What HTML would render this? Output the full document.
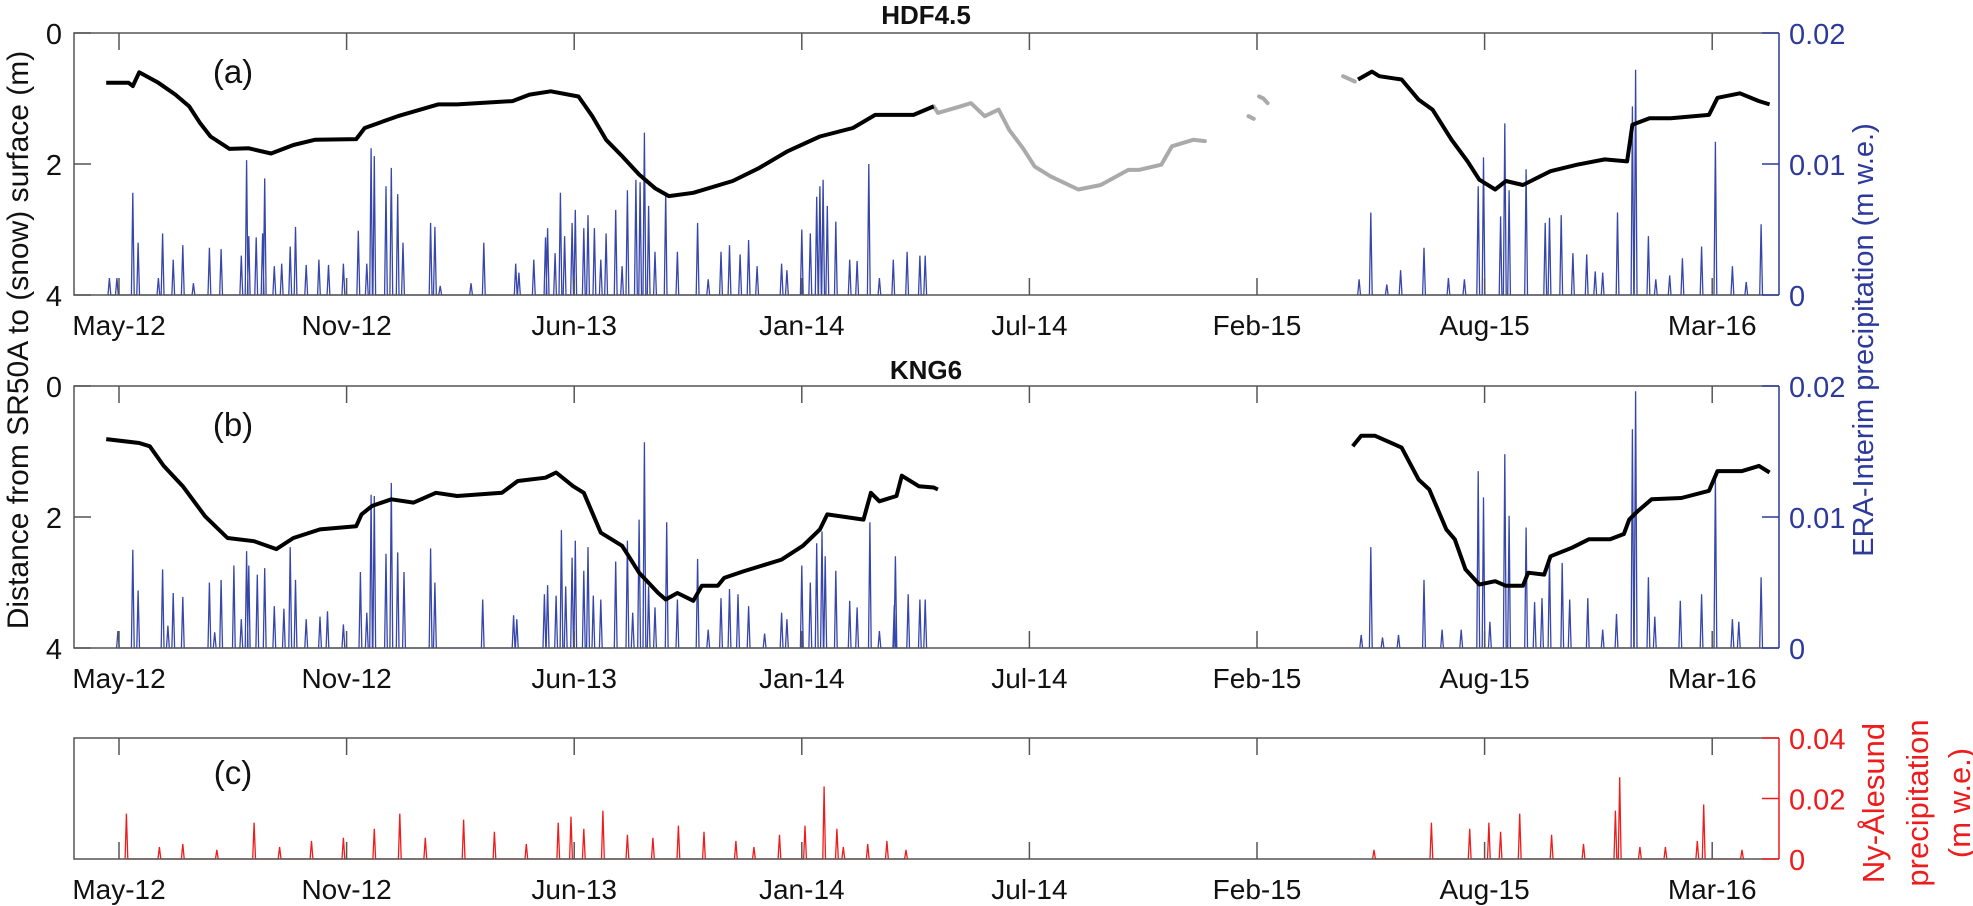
<!DOCTYPE html>
<html><head><meta charset="utf-8"><style>
body{margin:0;background:#fff;width:1973px;height:906px;overflow:hidden}
svg{display:block;font-family:"Liberation Sans",Arial,sans-serif}
</style></head><body>
<svg id="chart" width="1973" height="906" viewBox="0 0 1973 906" xmlns="http://www.w3.org/2000/svg"></svg>
<script>
// ---- data (x in days since May-2012 tick) ----
const tickLabels = ["May-12","Nov-12","Jun-13","Jan-14","Jul-14","Feb-15","Aug-15","Mar-16"];
const depthTicks = [0,2,4];
const eraTicks = [0,0.01,0.02];
const nyTicks = [0,0.02,0.04];

const hdfDays1 = [-12,9,13,19,37,53,66,76,86,104,122,143,164,184,223,231,262,277,300,318,370,386,406,432,445,458,473,489,504,517,540,577,602,628,659,690,711,747,766];
const hdfDepth1 = [0.76,0.76,0.81,0.60,0.76,0.94,1.12,1.37,1.58,1.77,1.76,1.84,1.71,1.63,1.62,1.45,1.27,1.20,1.09,1.09,1.04,0.94,0.89,0.97,1.27,1.63,1.88,2.16,2.37,2.49,2.44,2.26,2.06,1.81,1.58,1.45,1.25,1.25,1.12];
const hdfGapDays = [766,770,791,801,814,827,837,850,861,876,902,923,949,959,980,990,1010,1021];
const hdfGapDepth = [1.12,1.22,1.12,1.07,1.27,1.17,1.48,1.76,2.04,2.19,2.39,2.32,2.09,2.09,2.01,1.73,1.63,1.65];
const hdfGapDays2 = [1062,1067];
const hdfGapDepth2 = [1.27,1.31];
const hdfGapDays3 = [1072,1076,1080];
const hdfGapDepth3 = [0.97,1.0,1.07];
const hdfGapDays4 = [1151,1162];
const hdfGapDepth4 = [0.66,0.74];
const hdfDays2 = [1165,1178,1185,1206,1222,1235,1253,1268,1279,1294,1304,1320,1346,1371,1397,1418,1423,1439,1459,1495,1503,1524,1542,1552];
const hdfDepth2 = [0.71,0.59,0.66,0.71,1.02,1.17,1.63,1.96,2.24,2.39,2.26,2.32,2.11,2.01,1.93,1.96,1.40,1.30,1.30,1.25,0.99,0.92,1.04,1.09];

const kngDays1 = [-12,19,29,42,60,81,102,127,148,164,189,223,228,238,256,277,298,318,360,375,401,411,427,437,453,473,489,507,514,525,540,548,563,569,587,623,643,659,666,700,707,715,731,736,752,766,770];
const kngDepth1 = [0.81,0.87,0.92,1.22,1.53,1.99,2.32,2.37,2.49,2.32,2.19,2.14,1.96,1.83,1.73,1.78,1.63,1.68,1.63,1.45,1.40,1.32,1.53,1.63,2.24,2.44,2.85,3.16,3.26,3.16,3.28,3.05,3.05,2.93,2.83,2.65,2.44,2.19,1.96,2.04,1.63,1.76,1.68,1.37,1.53,1.55,1.58];
const kngDays2 = [1160,1168,1181,1206,1222,1232,1248,1256,1266,1279,1294,1304,1320,1325,1340,1346,1366,1382,1402,1415,1420,1428,1441,1469,1495,1503,1526,1542,1552];
const kngDepth2 = [0.92,0.76,0.76,0.94,1.43,1.58,2.19,2.34,2.80,3.03,2.98,3.05,3.05,2.85,2.88,2.60,2.47,2.34,2.34,2.26,2.04,1.91,1.73,1.71,1.60,1.30,1.30,1.22,1.32];

const eraADays = [-9,-2,13,18,37,41,51,60,70,85,96,115,120,122,129,135,137,146,153,161,166,176,188,197,211,225,233,237,240,251,256,262,267,293,297,302,331,343,373,376,390,401,403,410,415,419,426,429,437,441,447,453,458,467,473,478,486,490,494,498,504,514,525,544,554,566,574,584,592,600,623,628,642,650,656,659,662,666,674,687,694,705,715,728,741,753,758,
 1166,1177,1192,1205,1227,1250,1265,1278,1283,1299,1303,1307,1323,1341,1345,1356,1367,1380,1388,1395,1409,1423,1426,1438,1445,1458,1470,1488,1501,1517,1530,1544];
const eraAVals = [.0013,.0013,.0078,.0040,.0013,.0047,.0027,.0038,.0009,.0036,.0035,.0030,.0103,.0045,.0044,.0047,.0089,.0022,.0024,.0037,.0052,.0023,.0027,.0023,.0024,.0049,.0024,.0112,.0106,.0083,.0097,.0077,.0040,.0055,.0052,.0007,.0009,.0040,.0024,.0017,.0027,.0044,.0051,.0032,.0078,.0045,.0055,.0065,.0051,.0061,.0051,.0027,.0047,.0065,.0022,.0080,.0088,.0086,.0124,.0068,.0033,.0078,.0033,.0055,.0012,.0033,.0038,.0031,.0042,.0022,.0024,.0019,.0050,.0047,.0075,.0083,.0088,.0068,.0056,.0027,.0026,.0100,.0013,.0027,.0033,.0030,.0030,
 .0012,.0063,.0008,.0019,.0036,.0013,.0012,.0083,.0105,.0060,.0131,.0080,.0096,.0055,.0059,.0061,.0032,.0031,.0018,.0017,.0063,.0144,.0172,.0045,.0012,.0015,.0028,.0037,.0117,.0022,.0010,.0054];

const eraBDays = [-1,13,18,41,46,51,60,85,90,96,108,115,120,122,130,137,146,155,161,166,176,189,196,211,227,233,237,240,251,256,262,268,293,297,342,371,374,400,403,411,416,420,426,429,437,441,446,453,467,478,483,489,494,498,504,515,525,544,554,566,574,582,592,607,623,628,642,650,656,661,664,674,687,694,706,715,729,730,742,753,758,
 1168,1177,1188,1203,1227,1244,1262,1278,1283,1289,1303,1307,1323,1331,1338,1345,1357,1364,1381,1395,1408,1423,1426,1438,1444,1468,1488,1501,1517,1523,1544];
const eraBVals = [.0013,.0075,.0044,.0060,.0017,.0042,.0039,.0050,.0012,.0052,.0063,.0022,.0074,.0063,.0056,.0061,.0032,.0030,.0077,.0052,.0022,.0024,.0028,.0018,.0058,.0027,.0117,.0116,.0072,.0126,.0073,.0058,.0076,.0050,.0037,.0025,.0022,.0041,.0048,.0040,.0090,.0047,.0069,.0082,.0059,.0077,.0040,.0037,.0066,.0082,.0027,.0098,.0157,.0047,.0031,.0096,.0037,.0068,.0014,.0038,.0045,.0041,.0032,.0011,.0027,.0022,.0063,.0050,.0080,.0089,.0070,.0059,.0036,.0031,.0096,.0013,.0033,.0070,.0041,.0037,.0037,
 .0010,.0077,.0008,.0010,.0052,.0014,.0014,.0135,.0115,.0020,.0148,.0101,.0092,.0035,.0038,.0068,.0065,.0037,.0038,.0014,.0026,.0167,.0196,.0054,.0024,.0036,.0041,.0131,.0022,.0020,.0054];

const nyDays = [7,38,60,92,127,151,181,211,240,264,288,324,353,383,413,425,437,455,478,502,526,550,580,597,621,645,663,675,681,704,722,740,
 1180,1234,1270,1288,1299,1317,1347,1377,1407,1411,1430,1454,1484,1490,1526];
const nyVals = [.015,.004,.005,.003,.012,.004,.006,.007,.010,.015,.007,.013,.009,.005,.012,.014,.010,.016,.008,.007,.011,.009,.006,.004,.008,.011,.024,.010,.004,.005,.006,.003,
 .003,.012,.010,.012,.009,.015,.008,.005,.016,.027,.004,.004,.006,.018,.003];

// ---- layout ----
const NS="http://www.w3.org/2000/svg";
const svg=document.getElementById('chart');
const X0=74,X1=1779;
const x=d=>119+d*(227.6/214);
const panels={a:{top:33,bot:295},b:{top:386,bot:648},c:{top:738,bot:859}};
const BLUE="#2d3a9c", RED="#ee1c1c";
function el(tag,attrs,parent){const e=document.createElementNS(NS,tag);for(const k in attrs)e.setAttribute(k,attrs[k]);(parent||svg).appendChild(e);return e;}
function txt(s,attrs){const t=el('text',attrs);t.textContent=s;return t;}

function spikePath(days,vals,yf){
  let d="";let prev=null;
  days.forEach((dd,i)=>{
    if(prev===null||dd-prev>200){d+=`M${x(dd-1.3).toFixed(1)},${yf(0).toFixed(1)}`;}
    else{d+=`L${x(dd-1.3).toFixed(1)},${yf(0).toFixed(1)}`;}
    d+=`L${x(dd).toFixed(1)},${yf(vals[i]).toFixed(1)}L${x(dd+1.3).toFixed(1)},${yf(0).toFixed(1)}`;
    prev=dd;
  });
  return d;
}
function linePath(days,vals,yf){
  return days.map((d,i)=>(i?'L':'M')+x(d).toFixed(1)+','+yf(vals[i]).toFixed(1)).join('');
}

function drawFrame(p,name,rightColor,rightTicks,rightMax,leftLabels){
  const g=el('g',{});
  
  
  el('path',{d:`M${X1},${p.top}H${X0}V${p.bot}H${X1}`,fill:'none',stroke:'#555','stroke-width':1.5},g);
  el('line',{x1:X1,y1:p.top,x2:X1,y2:p.bot,stroke:rightColor,'stroke-width':1.5},g);
  tickLabels.forEach((lab,i)=>{
    const tx=x(i*214);
    el('line',{x1:tx,y1:p.top,x2:tx,y2:p.top+17,stroke:'#555','stroke-width':1.5},g);
    el('line',{x1:tx,y1:p.bot,x2:tx,y2:p.bot-17,stroke:'#555','stroke-width':1.5},g);
    const t=txt(lab,{x:tx,y:p.bot+40,'font-size':28,'text-anchor':'middle',fill:'#111'});
    
    
  });
  rightTicks.forEach(v=>{
    const ty=p.bot-(v/rightMax)*(p.bot-p.top);
    el('line',{x1:X1,y1:ty,x2:X1-17,y2:ty,stroke:rightColor,'stroke-width':1.5},g);
    const t=txt(String(v),{x:X1+10,y:ty+11,'font-size':29,fill:rightColor});
    
    
  });
  if(leftLabels){
    depthTicks.forEach(v=>{
      const ty=p.top+(v/4)*(p.bot-p.top);
      el('line',{x1:X0,y1:ty,x2:X0+17,y2:ty,stroke:'#555','stroke-width':1.5},g);
      const t=txt(String(v),{x:X0-12,y:ty+11,'font-size':29,'text-anchor':'end',fill:'#111'});
      
      
    });
  }
}

const pa=panels.a, pb=panels.b, pc=panels.c;
const yDepA=v=>pa.top+v/4*(pa.bot-pa.top);
const yEraA=v=>pa.bot-v/0.02*(pa.bot-pa.top);
const yDepB=v=>pb.top+v/4*(pb.bot-pb.top);
const yEraB=v=>pb.bot-v/0.02*(pb.bot-pb.top);
const yNy=v=>pc.bot-v/0.04*(pc.bot-pc.top);

let e;
// panel a
e=el('path',{d:spikePath(eraADays,eraAVals,yEraA),fill:'none',stroke:'#3646aa','stroke-width':1.3});


[[hdfGapDays,hdfGapDepth],[hdfGapDays2,hdfGapDepth2],[hdfGapDays3,hdfGapDepth3],[hdfGapDays4,hdfGapDepth4]].forEach(s=>{
  const l=el('path',{d:linePath(s[0],s[1],yDepA),fill:'none',stroke:'#aaa','stroke-width':4,'stroke-linejoin':'round','stroke-linecap':'round'});
  
  
});
[[hdfDays1,hdfDepth1],[hdfDays2,hdfDepth2]].forEach(s=>{
  const l=el('path',{d:linePath(s[0],s[1],yDepA),fill:'none',stroke:'#000','stroke-width':4,'stroke-linejoin':'round'});
  
  
});
drawFrame(pa,'panel-a',BLUE,eraTicks,0.02,true);

// panel b
e=el('path',{d:spikePath(eraBDays,eraBVals,yEraB),fill:'none',stroke:'#3646aa','stroke-width':1.3});


[[kngDays1,kngDepth1],[kngDays2,kngDepth2]].forEach(s=>{
  const l=el('path',{d:linePath(s[0],s[1],yDepB),fill:'none',stroke:'#000','stroke-width':4,'stroke-linejoin':'round'});
  
  
});
drawFrame(pb,'panel-b',BLUE,eraTicks,0.02,true);

// panel c
e=el('path',{d:spikePath(nyDays,nyVals,yNy),fill:'none',stroke:RED,'stroke-width':1.3});


drawFrame(pc,'panel-c',RED,nyTicks,0.04,false);

// titles & labels
e=txt('HDF4.5',{x:926,y:24,'font-size':26,'font-weight':'bold','text-anchor':'middle',fill:'#111'});


e=txt('KNG6',{x:926,y:379,'font-size':26,'font-weight':'bold','text-anchor':'middle',fill:'#111'});


[['(a)',pa.top+50],['(b)',pb.top+50],['(c)',pc.top+46]].forEach(a=>{
  const t=txt(a[0],{x:233,y:a[1],'font-size':33,'text-anchor':'middle',fill:'#111'});
  
  
});
e=txt('Distance from SR50A to (snow) surface (m)',{x:0,y:0,'font-size':30,'text-anchor':'middle',fill:'#111',transform:'translate(28,340) rotate(-90)'});


e=txt('ERA-Interim precipitation (m w.e.)',{x:0,y:0,'font-size':29,'text-anchor':'middle',fill:BLUE,transform:'translate(1873,340) rotate(-90)'});


[['Ny-Ålesund',1884],['precipitation',1928],['(m w.e.)',1970]].forEach(a=>{
  const t=txt(a[0],{x:0,y:0,'font-size':31,'text-anchor':'middle',fill:RED,transform:`translate(${a[1]},803) rotate(-90)`});
  
  
});
</script>
</body></html>
